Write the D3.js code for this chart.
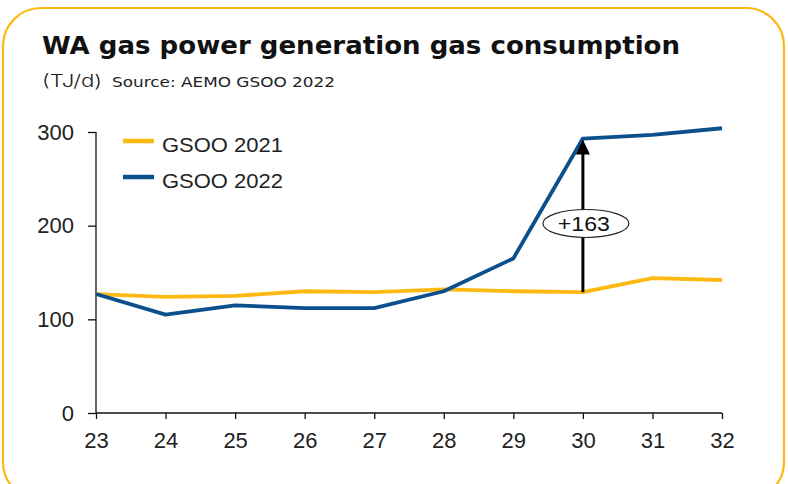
<!DOCTYPE html>
<html><head><meta charset="utf-8">
<script src="https://cdn.jsdelivr.net/npm/d3@7"></script>
<style>body{margin:0;background:#fff}</style>
</head><body>
<svg id="c" width="788" height="484"></svg>
<script>
const years = [23,24,25,26,27,28,29,30,31,32];
const gsoo2021 = [127,124,125,130,129,132,130,129,144,142];
const gsoo2022 = [127,105,115,112,112,130,165,293,297,304];
const yTicks = [0,100,200,300];
const seriesNames = ["GSOO 2021","GSOO 2022"];
const annotationLabel = "+163";
const annotationYear = 30;

const svg = d3.select("#c");
const yellow = "#FDB913", blue = "#0B4F8D";

svg.append("rect").attr("x",3).attr("y",8).attr("width",781).attr("height",492)
  .attr("rx",38).attr("fill","#fff").attr("stroke",yellow).attr("stroke-width",2.2);

svg.append("text").attr("x",42).attr("y",54).attr("font-family","DejaVu Sans, sans-serif")
  .attr("font-weight",700).attr("font-size",25.5).attr("fill","#111")
  .attr("textLength",638).attr("lengthAdjust","spacingAndGlyphs")
  .text("WA gas power generation gas consumption");
svg.append("text").attr("x",42).attr("y",87).attr("font-family","Inter, sans-serif")
  .attr("font-weight",300).attr("font-size",17).attr("fill","#222")
  .attr("textLength",60).attr("lengthAdjust","spacingAndGlyphs").text("(TJ/d)");
svg.append("text").attr("x",112).attr("y",87).attr("font-family","DejaVu Sans, sans-serif")
  .attr("font-size",14.5).attr("fill","#222")
  .attr("textLength",223).attr("lengthAdjust","spacingAndGlyphs").text("Source: AEMO GSOO 2022");

const x = d3.scaleLinear().domain([23,32]).range([96,722]);
const y = d3.scaleLinear().domain([0,300]).range([413,132]);

const font = "Liberation Sans, Arial, sans-serif";
const yAxis = svg.append("g").attr("transform","translate(96,0)")
  .call(d3.axisLeft(y).tickValues(yTicks).tickSize(8).tickPadding(14));
const xAxis = svg.append("g").attr("transform","translate(0,413)")
  .call(d3.axisBottom(x).tickValues(years).tickSize(6).tickPadding(13));
[yAxis,xAxis].forEach(a=>{
  a.select(".domain").attr("stroke","#111").attr("stroke-width",1.3);
  a.selectAll(".tick line").attr("stroke","#111").attr("stroke-width",1.3);
  a.selectAll("text").attr("font-family",font).attr("font-size",22).attr("fill","#222");
});
yAxis.select(".domain").attr("d","M0,132V413");
xAxis.select(".domain").attr("d","M96,0H722");

const line = d3.line().x((d,i)=>x(years[i])).y(d=>y(d));
svg.append("path").datum(gsoo2021).attr("d",line).attr("fill","none")
  .attr("stroke",yellow).attr("stroke-width",3.8).attr("stroke-linejoin","round");
svg.append("path").datum(gsoo2022).attr("d",line).attr("fill","none")
  .attr("stroke",blue).attr("stroke-width",3.8).attr("stroke-linejoin","round");

// legend
[[yellow,seriesNames[0],141],[blue,seriesNames[1],177]].forEach(([c,t,ly])=>{
  svg.append("line").attr("x1",123).attr("x2",154).attr("y1",ly).attr("y2",ly)
    .attr("stroke",c).attr("stroke-width",4.5);
  svg.append("text").attr("x",162).attr("y",ly+10.5).attr("font-family",font)
    .attr("font-size",21).attr("fill","#222")
    .attr("textLength",121).attr("lengthAdjust","spacingAndGlyphs").text(t);
});

// annotation arrow
const ai = years.indexOf(annotationYear);
const ax = x(annotationYear), y0 = y(gsoo2021[ai]), y1 = y(gsoo2022[ai]);
svg.append("line").attr("x1",ax).attr("x2",ax).attr("y1",y0).attr("y2",y1+12)
  .attr("stroke","#000").attr("stroke-width",3);
svg.append("path").attr("d",`M${ax},${y1+1}L${ax-7},${y1+16}L${ax+7},${y1+16}Z`).attr("fill","#000");
const my = 223.5;
svg.append("ellipse").attr("cx",ax+3).attr("cy",my).attr("rx",43).attr("ry",14)
  .attr("fill","#fff").attr("stroke","#222").attr("stroke-width",1.2);
svg.append("text").attr("x",ax+1).attr("y",my+7.5).attr("text-anchor","middle")
  .attr("font-family",font).attr("font-size",21).attr("fill","#111")
  .attr("textLength",52).attr("lengthAdjust","spacingAndGlyphs").text(annotationLabel);
</script>
</body></html>
